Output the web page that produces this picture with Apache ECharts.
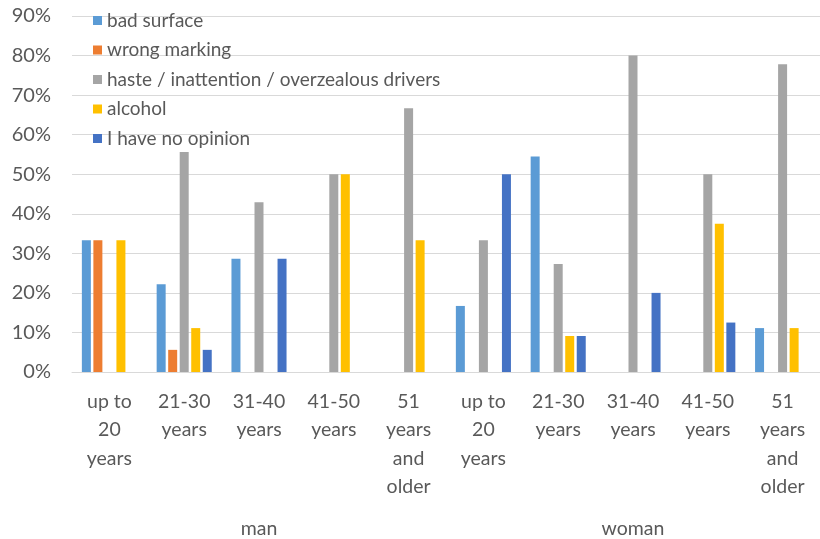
<!DOCTYPE html>
<html>
<head>
<meta charset="utf-8">
<script src="https://cdn.jsdelivr.net/npm/echarts@6/dist/echarts.min.js"></script>
<style>
  html, body { margin: 0; padding: 0; background: #fff; }
  #chartData { width: 820px; height: 539px; }
</style>
</head>
<body>
<div id="chartData"></div>
<script>
// categories (two levels)
var ageGroups = ['up to\n20\nyears', '21-30\nyears', '31-40\nyears', '41-50\nyears', '51\nyears\nand\nolder',
                 'up to\n20\nyears', '21-30\nyears', '31-40\nyears', '41-50\nyears', '51\nyears\nand\nolder'];
var genders = ['man', 'woman'];

// series values (%)
var badSurface   = [33.3, 22.2, 28.6, 0, 0,    16.7, 54.5, 0, 0, 11.1];
var wrongMarking = [33.3, 5.6, 0, 0, 0,        0, 0, 0, 0, 0];
var haste        = [0, 55.6, 42.9, 50, 66.7,   33.3, 27.3, 80, 50, 77.8];
var alcohol      = [33.3, 11.1, 0, 50, 33.3,   0, 9.1, 0, 37.5, 11.1];
var noOpinion    = [0, 5.6, 28.6, 0, 0,        50, 9.1, 20, 12.5, 0];

var seriesNames = ['bad surface', 'wrong marking', 'haste / inattention / overzealous drivers', 'alcohol', 'I have no opinion'];
var seriesColors = ['#5B9BD5', '#ED7D31', '#A5A5A5', '#FFC000', '#4472C4'];
var seriesData = [badSurface, wrongMarking, haste, alcohol, noOpinion];

var myChart = echarts.init(document.getElementById('chartData'));

var series = seriesNames.map(function (name, i) {
    return {
        name: name,
        type: 'bar',
        xAxisIndex: 0,
        barWidth: 9,
        barGap: '28%',
        itemStyle: { color: seriesColors[i] },
        data: seriesData[i]
    };
});

var option = {
    animation: false,
    textStyle: { fontFamily: 'Lato' },
    color: seriesColors,
    legend: {
        orient: 'vertical',
        left: 88,
        top: 6,
        itemWidth: 9,
        itemHeight: 9,
        itemGap: 10.5,
        icon: 'rect',
        textStyle: { fontSize: 19, color: '#595959', fontFamily: 'Lato' },
        data: seriesNames
    },
    grid: { left: 72, right: 0, top: 16, bottom: 167 },
    xAxis: [{
        type: 'category',
        data: ageGroups,
        axisLine: { lineStyle: { color: '#D9D9D9' } },
        axisTick: { show: false },
        axisLabel: {
            interval: 0,
            margin: 15,
            fontSize: 19.5,
            lineHeight: 28.5,
            color: '#595959'
        }
    }, {
        type: 'category',
        data: genders,
        position: 'bottom',
        offset: 140,
        axisLine: { show: false },
        axisTick: { show: false },
        axisLabel: { margin: 7, fontSize: 19.5, color: '#595959' }
    }],
    yAxis: {
        type: 'value',
        min: 0,
        max: 90,
        interval: 10,
        axisLine: { show: false },
        axisTick: { show: false },
        splitLine: { lineStyle: { color: '#D9D9D9' } },
        axisLabel: { formatter: '{value}%', fontSize: 20, color: '#595959', margin: 21 }
    },
    series: series
};

myChart.setOption(option);
</script>
</body>
</html>
